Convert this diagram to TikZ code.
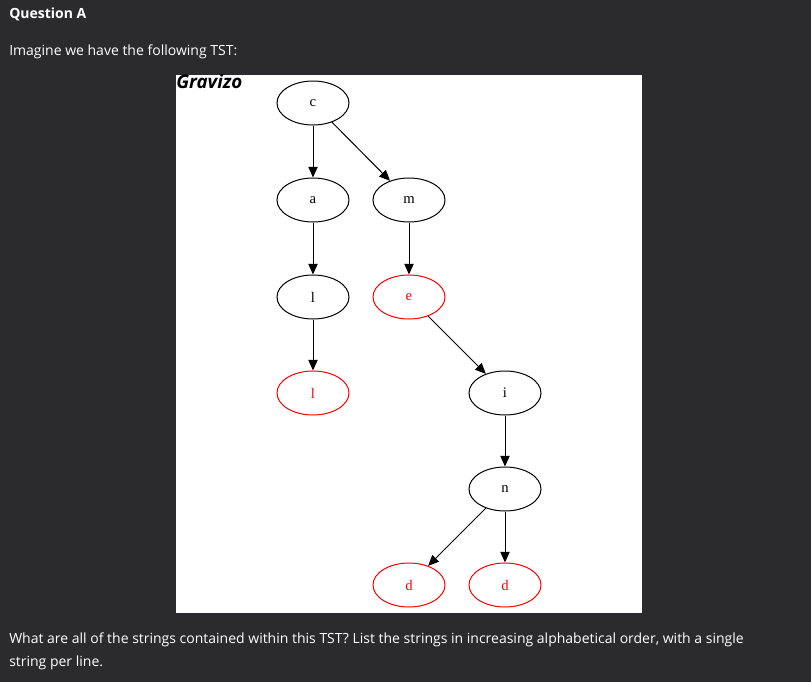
\documentclass[tikz,border=0pt]{standalone}
\usepackage{fontspec}
\setmainfont{Open Sans}
\newfontfamily\nodefont{Liberation Serif}
\usetikzlibrary{arrows.meta}
\definecolor{bg}{HTML}{2B2B2D}
\tikzset{
  tnode/.style={draw=black,ellipse,minimum width=54pt,minimum height=33pt,inner sep=0pt,font=\nodefont\fontsize{11}{12}\selectfont,line width=0.75pt},
  endnode/.style={tnode,draw=red,text=red},
  edge/.style={-{Triangle[length=8pt,width=7pt]},line width=0.75pt},
  txt/.style={anchor=west,text=white,font=\fontsize{10.5}{13}\selectfont,inner sep=0pt}
}
\usetikzlibrary{shapes.geometric}
\begin{document}
\begin{tikzpicture}[x=0.75pt,y=-0.75pt]
\fill[bg] (0,0) rectangle (811,682);
\fill[white] (176,75) rectangle (642,613);
\useasboundingbox (0,0) rectangle (811,682);
\node[txt,font=\bfseries\fontsize{10.5}{13}\selectfont] (qa) at (9,14) {Question A};
\node[txt] (im) at (9,52) {Imagine we have the following TST:};
\node[anchor=north west,inner sep=0pt,font=\bfseries\itshape\fontsize{14}{16}\selectfont] (logo) at (176,74) {Gravizo};
\node[txt] (q1) at (9,640) {What are all of the strings contained within this TST? List the strings in increasing alphabetical order, with a single};
\node[txt] (q2) at (9,663) {string per line.};
\node[tnode] (c) at (313,103) {c};
\node[tnode] (a) at (313,200) {a};
\node[tnode] (m) at (409,200) {m};
\node[tnode] (l1) at (313,297) {l};
\node[endnode] (e) at (409,297) {e};
\node[endnode] (l2) at (313,393) {l};
\node[tnode] (i) at (505,393) {i};
\node[tnode] (n) at (505,489) {n};
\node[endnode] (d1) at (409,585) {d};
\node[endnode] (d2) at (505,585) {d};
\draw[edge] (c) -- (a);
\draw[edge] (c) -- (m);
\draw[edge] (a) -- (l1);
\draw[edge] (l1) -- (l2);
\draw[edge] (m) -- (e);
\draw[edge] (e) -- (i);
\draw[edge] (i) -- (n);
\draw[edge] (n) -- (d1);
\draw[edge] (n) -- (d2);
\end{tikzpicture}
\end{document}
